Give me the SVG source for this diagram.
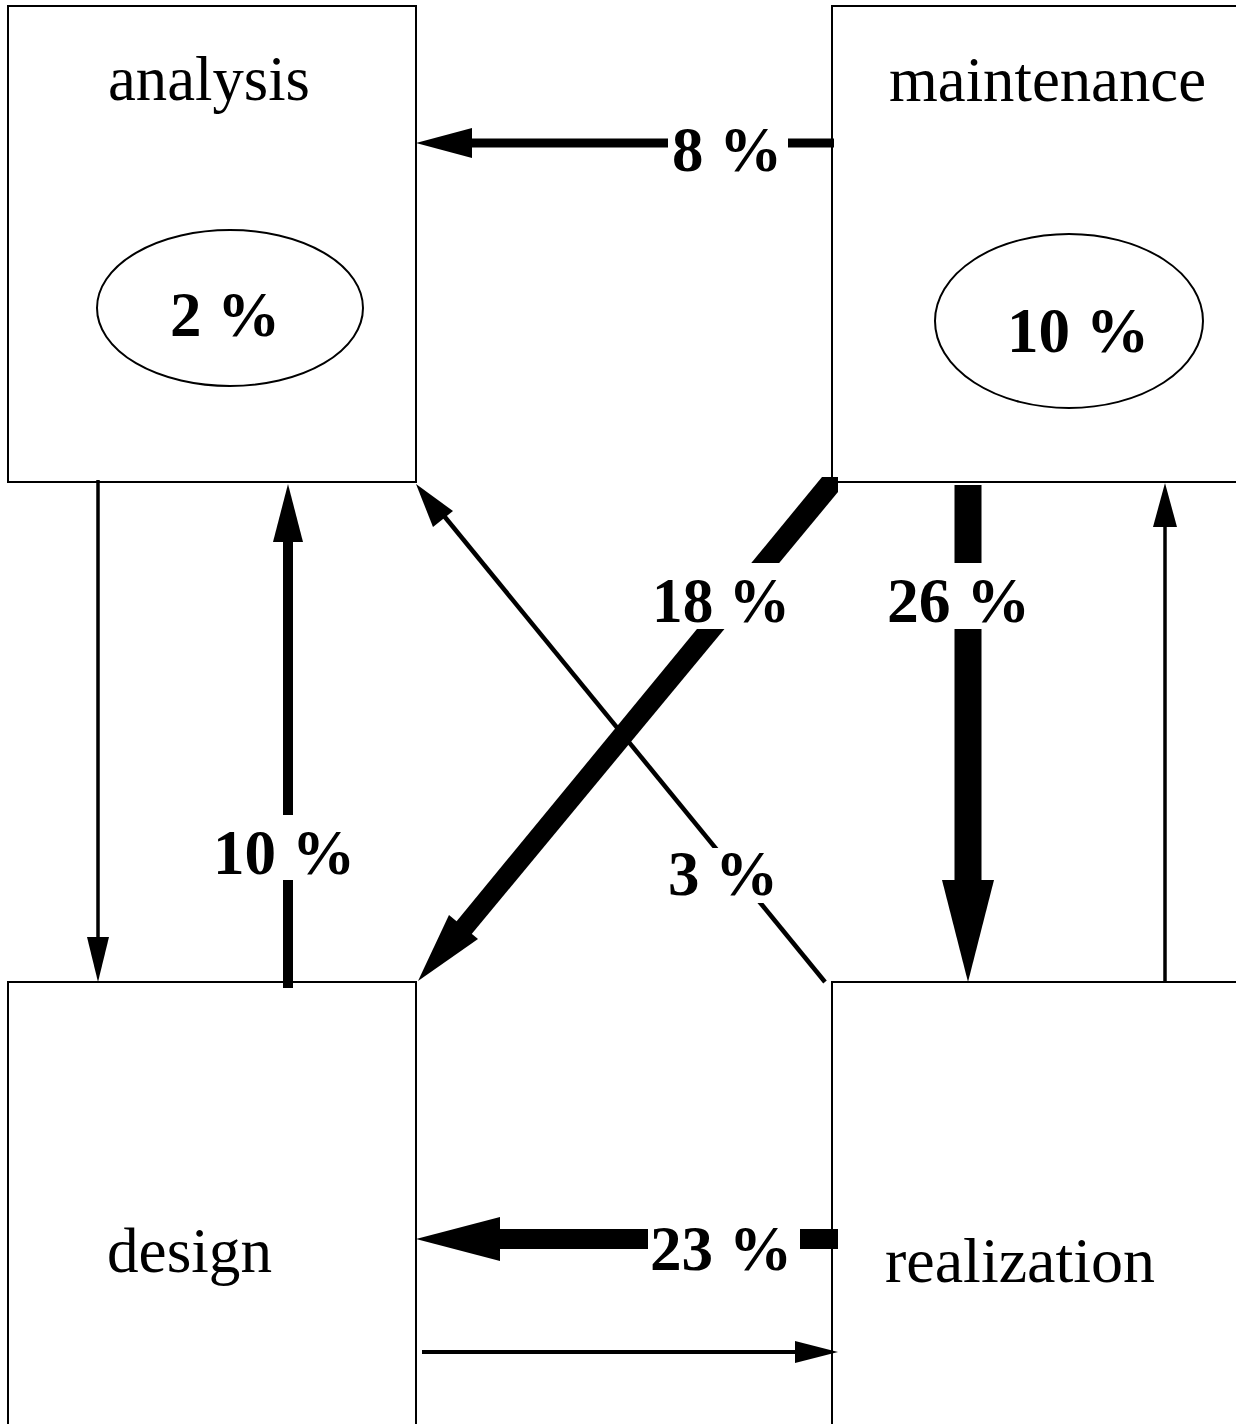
<svg xmlns="http://www.w3.org/2000/svg" width="1236" height="1424" viewBox="0 0 1236 1424">
<style>
.box{fill:#fff;stroke:#000;stroke-width:2}
.ell{fill:#fff;stroke:#000;stroke-width:2}
.name{font-family:"Liberation Serif","Times New Roman",serif;font-size:64px;fill:#000}
.pct{font-family:"Liberation Serif","Times New Roman",serif;font-size:64px;font-weight:bold;fill:#000}
.ln{stroke:#000;fill:none}
.bg{fill:#fff}
</style>
<rect width="1236" height="1424" fill="#fff"/>
<g id="analysis">
<rect class="box" x="8" y="6" width="408" height="476"/>
<text class="name" x="108" y="100" textLength="202" lengthAdjust="spacingAndGlyphs">analysis</text>
<ellipse class="ell" cx="230" cy="308" rx="133" ry="78"/>
<text class="pct" x="170" y="336" textLength="110" lengthAdjust="spacingAndGlyphs">2 %</text>
</g>
<g id="maintenance">
<rect class="box" x="832" y="6" width="410" height="476"/>
<text class="name" x="889" y="101" textLength="317" lengthAdjust="spacingAndGlyphs">maintenance</text>
<ellipse class="ell" cx="1069" cy="321" rx="134" ry="87"/>
<text class="pct" x="1007" y="352" textLength="142" lengthAdjust="spacingAndGlyphs">10 %</text>
</g>
<g id="design">
<rect class="box" x="8" y="982" width="408" height="450"/>
<text class="name" x="107" y="1272" textLength="165" lengthAdjust="spacingAndGlyphs">design</text>
</g>
<g id="realization">
<rect class="box" x="832" y="982" width="410" height="450"/>
<text class="name" x="885" y="1282" textLength="270" lengthAdjust="spacingAndGlyphs">realization</text>
</g>
<g id="connectors">
<!-- maintenance -> analysis 8% -->
<line class="ln" x1="834" y1="143" x2="468" y2="143" stroke-width="9"/>
<polygon points="416,143 472,128 472,158"/>
<rect class="bg" x="668" y="118" width="120" height="60"/>
<text class="pct" x="672" y="171" textLength="110" lengthAdjust="spacingAndGlyphs">8 %</text>

<!-- analysis -> design thin -->
<line class="ln" x1="98" y1="480" x2="98" y2="940" stroke-width="3.5"/>
<polygon points="98,982 87,937 109,937"/>

<!-- design -> analysis 10% -->
<line class="ln" x1="288" y1="988" x2="288" y2="538" stroke-width="10"/>
<polygon points="288,484 273,542 303,542"/>
<rect class="bg" x="205" y="815" width="155" height="65"/>
<text class="pct" x="213" y="874" textLength="142" lengthAdjust="spacingAndGlyphs">10 %</text>

<!-- realization -> analysis 3% -->
<line class="ln" x1="825" y1="982" x2="440" y2="511" stroke-width="4.5"/>
<polygon points="416,484 453,511 433,527"/>

<!-- maintenance -> design 18% -->
<polygon points="822,477 838,477 838,492 470,936 456,922"/>
<polygon points="418,981 449,915 478,939"/>
<rect class="bg" x="645" y="563" width="150" height="66"/>
<text class="pct" x="652" y="622" textLength="138" lengthAdjust="spacingAndGlyphs">18 %</text>

<rect class="bg" x="660" y="848" width="125" height="55"/>
<text class="pct" x="668" y="895" textLength="110" lengthAdjust="spacingAndGlyphs">3 %</text>

<!-- maintenance -> realization 26% -->
<line class="ln" x1="968" y1="485" x2="968" y2="884" stroke-width="27"/>
<polygon points="968,982 942,880 994,880"/>
<rect class="bg" x="880" y="563" width="155" height="66"/>
<text class="pct" x="887" y="622" textLength="143" lengthAdjust="spacingAndGlyphs">26 %</text>

<!-- realization -> maintenance thin -->
<line class="ln" x1="1165" y1="983" x2="1165" y2="522" stroke-width="3.5"/>
<polygon points="1165,483 1153,527 1177,527"/>

<!-- realization -> design 23% -->
<line class="ln" x1="838" y1="1239" x2="496" y2="1239" stroke-width="20"/>
<polygon points="416,1239 500,1217 500,1261"/>
<rect class="bg" x="648" y="1210" width="152" height="70"/>
<text class="pct" x="650" y="1270" textLength="142" lengthAdjust="spacingAndGlyphs">23 %</text>

<!-- design -> realization thin -->
<line class="ln" x1="422" y1="1352" x2="800" y2="1352" stroke-width="4"/>
<polygon points="838,1352 795,1341 795,1363"/>
</g>
</svg>
